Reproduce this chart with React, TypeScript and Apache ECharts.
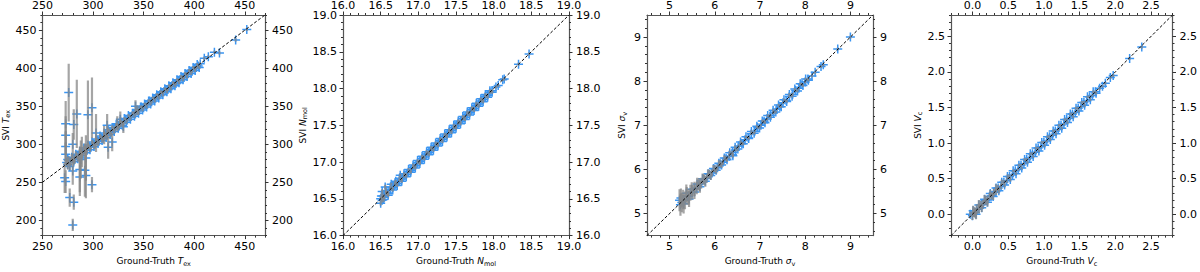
import React, { useEffect, useRef } from 'react';
import * as echarts from 'echarts';

// Each point: [ground truth, SVI estimate, SVI uncertainty]
const texPoints: number[][] = [
  [274, 276, 4], [275, 273, 6], [276, 279, 5], [278, 277, 5], [280, 281, 4], [282, 280, 5],
  [284, 285, 4], [286, 284, 4], [288, 289, 4], [290, 288, 3], [292, 293, 3], [294, 292, 4],
  [296, 297, 3], [298, 296, 3], [300, 301, 3], [302, 300, 3], [304, 305, 3], [306, 304, 3],
  [308, 309, 3], [310, 308, 3], [312, 313, 3], [314, 312, 3], [316, 317, 3], [318, 316, 3],
  [320, 320, 3], [322, 321, 3], [324, 325, 2], [326, 324, 3], [328, 329, 2], [330, 328, 3],
  [332, 333, 2], [334, 332, 2], [336, 336, 2], [338, 337, 2], [340, 341, 2], [342, 340, 2],
  [344, 344, 2], [346, 345, 2], [348, 349, 2], [350, 348, 2], [352, 352, 2], [354, 353, 2],
  [356, 357, 2], [358, 356, 2], [360, 360, 2], [362, 361, 2], [364, 364, 2], [366, 365, 2],
  [368, 368, 2], [370, 369, 2], [372, 372, 2], [374, 372, 2], [376, 376, 2], [378, 377, 2],
  [380, 380, 2], [382, 380, 2], [384, 384, 2], [386, 385, 2], [388, 388, 2], [390, 388, 2],
  [392, 392, 2], [394, 393, 2], [396, 396, 2], [398, 396, 2], [400, 400, 2], [402, 401, 2],
  [404, 403, 2], [406, 406, 2],
  [410, 413, 2], [414, 415, 2], [420, 421, 2], [425, 420, 2], [441, 437, 2], [452, 451, 2],
  [273, 327, 30], [273, 312, 25], [273, 297, 20], [273, 287, 15], [272, 256, 20], [273, 251, 15],
  [276, 368, 38], [277, 230, 12], [281, 224, 10], [280, 194, 8], [281, 326, 20], [280, 300, 15],
  [284, 340, 45], [280, 265, 18], [287, 267, 30], [288, 280, 25], [292, 266, 35], [293, 282, 30],
  [287, 257, 25], [293, 259, 30], [295, 339, 45], [299, 348, 40], [299, 247, 10], [303, 315, 25],
  [289, 290, 20], [311, 312, 12], [314, 325, 15], [315, 296, 15], [319, 303, 12], [324, 327, 10],
  [327, 333, 10], [330, 323, 8], [342, 350, 8], [344, 345, 6],
];
const texBandEdges: number[][] = [
  [275, 280, 4], [277, 271, 5], [279, 283, 4], [281, 277, 4], [283, 287, 4], [285, 281, 4],
  [287, 291, 3], [289, 285, 3], [291, 295, 3], [293, 289, 3], [295, 299, 3], [297, 293, 3],
  [299, 303, 3], [301, 297, 3], [303, 307, 3], [305, 301, 3], [307, 311, 3], [309, 305, 3],
  [311, 315, 3], [313, 309, 3], [315, 319, 3], [317, 313, 3], [319, 322, 3], [321, 317, 3],
  [323, 326, 2], [325, 321, 2], [327, 330, 2], [329, 325, 2], [331, 334, 2], [333, 329, 2],
  [335, 338, 2], [337, 333, 2], [339, 341, 2], [341, 337, 2], [343, 345, 2], [345, 341, 2],
  [347, 349, 2], [349, 345, 2], [351, 353, 2], [353, 349, 2], [355, 357, 2], [357, 353, 2],
  [359, 361, 2], [361, 357, 2], [363, 365, 2], [365, 361, 2], [367, 369, 2], [369, 365, 2],
  [371, 373, 2], [373, 369, 2], [375, 377, 2], [377, 373, 2], [379, 381, 2], [381, 377, 2],
  [383, 385, 2], [385, 381, 2], [387, 389, 2], [389, 385, 2], [391, 393, 2], [393, 389, 2],
  [395, 397, 2], [397, 393, 2], [399, 401, 2], [401, 397, 2], [403, 405, 2], [405, 401, 2],
];

const nmolPoints: number[][] = [
  [16.50, 16.50, 0.03], [16.52, 16.48, 0.03], [16.53, 16.54, 0.03], [16.55, 16.52, 0.03],
  [16.57, 16.58, 0.03], [16.60, 16.58, 0.03], [16.63, 16.63, 0.02], [16.66, 16.65, 0.02],
  [16.69, 16.69, 0.02], [16.72, 16.71, 0.02], [16.75, 16.75, 0.02], [16.78, 16.77, 0.02],
  [16.81, 16.81, 0.02], [16.84, 16.83, 0.02], [16.87, 16.87, 0.02], [16.90, 16.89, 0.02],
  [16.93, 16.93, 0.02], [16.96, 16.95, 0.02], [16.99, 16.99, 0.02], [17.02, 17.01, 0.02],
  [17.05, 17.05, 0.02], [17.08, 17.07, 0.02], [17.11, 17.11, 0.02], [17.14, 17.13, 0.02],
  [17.17, 17.17, 0.02], [17.20, 17.19, 0.02], [17.23, 17.23, 0.02], [17.26, 17.25, 0.02],
  [17.29, 17.29, 0.02], [17.32, 17.31, 0.02], [17.35, 17.35, 0.02], [17.38, 17.37, 0.02],
  [17.41, 17.41, 0.02], [17.44, 17.43, 0.02], [17.47, 17.47, 0.02], [17.50, 17.49, 0.02],
  [17.53, 17.53, 0.02], [17.56, 17.55, 0.02], [17.59, 17.59, 0.02], [17.62, 17.61, 0.02],
  [17.65, 17.65, 0.02], [17.68, 17.67, 0.02], [17.71, 17.71, 0.02], [17.74, 17.73, 0.02],
  [17.77, 17.77, 0.02], [17.80, 17.79, 0.02], [17.83, 17.83, 0.02], [17.86, 17.85, 0.02],
  [17.89, 17.89, 0.02], [17.92, 17.91, 0.02], [17.95, 17.95, 0.02], [17.98, 17.97, 0.02],
  [18.03, 18.02, 0.02], [18.06, 18.04, 0.02], [18.12, 18.12, 0.02], [18.14, 18.13, 0.02],
  [18.33, 18.33, 0.02], [18.47, 18.47, 0.02],
  [16.56, 16.66, 0.03], [16.59, 16.57, 0.03], [16.50, 16.44, 0.03], [16.52, 16.60, 0.03],
  [16.76, 16.82, 0.02], [16.64, 16.70, 0.02], [16.70, 16.74, 0.02],
];
const nmolBandEdges: number[][] = [
  [16.51, 16.54, 0.03], [16.54, 16.49, 0.03], [16.57, 16.61, 0.03], [16.60, 16.55, 0.03],
  [16.63, 16.66, 0.02], [16.66, 16.62, 0.02], [16.69, 16.72, 0.02], [16.72, 16.68, 0.02],
  [16.75, 16.78, 0.02], [16.78, 16.74, 0.02], [16.81, 16.84, 0.02], [16.84, 16.80, 0.02],
  [16.87, 16.90, 0.02], [16.90, 16.86, 0.02], [16.93, 16.96, 0.02], [16.96, 16.92, 0.02],
  [16.99, 17.02, 0.02], [17.02, 16.98, 0.02], [17.05, 17.08, 0.02], [17.08, 17.04, 0.02],
  [17.11, 17.14, 0.02], [17.14, 17.10, 0.02], [17.17, 17.20, 0.02], [17.20, 17.16, 0.02],
  [17.23, 17.26, 0.02], [17.26, 17.22, 0.02], [17.29, 17.32, 0.02], [17.32, 17.28, 0.02],
  [17.35, 17.38, 0.02], [17.38, 17.34, 0.02], [17.41, 17.44, 0.02], [17.44, 17.40, 0.02],
  [17.47, 17.50, 0.02], [17.50, 17.46, 0.02], [17.53, 17.56, 0.02], [17.56, 17.52, 0.02],
  [17.59, 17.62, 0.02], [17.62, 17.58, 0.02], [17.65, 17.68, 0.02], [17.68, 17.64, 0.02],
  [17.71, 17.74, 0.02], [17.74, 17.70, 0.02], [17.77, 17.80, 0.02], [17.80, 17.76, 0.02],
  [17.83, 17.86, 0.02], [17.86, 17.82, 0.02], [17.89, 17.92, 0.02], [17.92, 17.88, 0.02],
  [17.95, 17.97, 0.02], [17.98, 17.95, 0.02],
];

const sigmaPoints: number[][] = [
  [5.22, 5.30, 0.25], [5.24, 5.20, 0.25], [5.27, 5.25, 0.22], [5.30, 5.32, 0.22], [5.34, 5.30, 0.20],
  [5.38, 5.40, 0.20], [5.42, 5.38, 0.18], [5.46, 5.47, 0.18], [5.50, 5.48, 0.16], [5.55, 5.56, 0.16],
  [5.60, 5.58, 0.14], [5.65, 5.66, 0.14], [5.70, 5.69, 0.12], [5.76, 5.77, 0.12], [5.82, 5.80, 0.10],
  [5.88, 5.89, 0.10], [5.94, 5.92, 0.08], [6.00, 6.01, 0.08], [6.06, 6.04, 0.07], [6.12, 6.13, 0.07],
  [6.18, 6.16, 0.06], [6.25, 6.25, 0.05], [6.32, 6.30, 0.05], [6.39, 6.39, 0.04], [6.46, 6.44, 0.04],
  [6.53, 6.53, 0.04], [6.60, 6.58, 0.04], [6.67, 6.67, 0.03], [6.74, 6.72, 0.03], [6.81, 6.81, 0.03],
  [6.88, 6.86, 0.03], [6.95, 6.95, 0.03], [7.02, 7.00, 0.03], [7.09, 7.09, 0.03], [7.16, 7.14, 0.03],
  [7.23, 7.23, 0.03], [7.30, 7.28, 0.03], [7.37, 7.37, 0.03], [7.44, 7.42, 0.03], [7.51, 7.51, 0.03],
  [7.58, 7.56, 0.03], [7.65, 7.65, 0.03], [7.72, 7.70, 0.03], [7.79, 7.79, 0.03], [7.86, 7.84, 0.03],
  [7.93, 7.93, 0.03], [8.00, 7.98, 0.03], [8.06, 8.05, 0.03],
  [8.15, 8.12, 0.03], [8.22, 8.20, 0.03], [8.35, 8.33, 0.03], [8.40, 8.37, 0.03], [8.72, 8.73, 0.03],
  [9.00, 9.00, 0.03], [6.40, 6.31, 0.04],
];
const sigmaBandEdges: number[][] = [
  [5.25, 5.35, 0.22], [5.31, 5.22, 0.22], [5.37, 5.46, 0.20], [5.43, 5.33, 0.18], [5.49, 5.55, 0.16],
  [5.55, 5.49, 0.16], [5.61, 5.67, 0.14], [5.67, 5.61, 0.14], [5.73, 5.79, 0.12], [5.79, 5.73, 0.12],
  [5.85, 5.90, 0.10], [5.91, 5.86, 0.10], [5.97, 6.02, 0.08], [6.03, 5.98, 0.08], [6.09, 6.14, 0.07],
  [6.15, 6.10, 0.07], [6.21, 6.26, 0.06], [6.27, 6.22, 0.05], [6.33, 6.38, 0.05], [6.39, 6.34, 0.04],
  [6.45, 6.50, 0.04], [6.51, 6.46, 0.04], [6.57, 6.62, 0.04], [6.63, 6.58, 0.03], [6.69, 6.74, 0.03],
  [6.75, 6.70, 0.03], [6.81, 6.86, 0.03], [6.87, 6.82, 0.03], [6.93, 6.98, 0.03], [6.99, 6.94, 0.03],
  [7.05, 7.10, 0.03], [7.11, 7.06, 0.03], [7.17, 7.22, 0.03], [7.23, 7.18, 0.03], [7.29, 7.34, 0.03],
  [7.35, 7.30, 0.03], [7.41, 7.46, 0.03], [7.47, 7.42, 0.03], [7.53, 7.58, 0.03], [7.59, 7.54, 0.03],
  [7.65, 7.70, 0.03], [7.71, 7.66, 0.03], [7.77, 7.82, 0.03], [7.83, 7.78, 0.03], [7.89, 7.94, 0.03],
  [7.95, 7.90, 0.03], [8.01, 8.05, 0.03], [8.07, 8.02, 0.03],
];

const vcPoints: number[][] = [
  [-0.03, 0.00, 0.04], [0.00, -0.02, 0.06], [0.02, 0.03, 0.07], [0.04, 0.02, 0.07], [0.06, 0.07, 0.07],
  [0.09, 0.08, 0.07], [0.12, 0.13, 0.06], [0.15, 0.14, 0.06], [0.18, 0.19, 0.06], [0.21, 0.20, 0.06],
  [0.24, 0.25, 0.05], [0.27, 0.26, 0.05], [0.30, 0.31, 0.05], [0.33, 0.32, 0.05], [0.36, 0.37, 0.04],
  [0.40, 0.39, 0.04], [0.44, 0.45, 0.03], [0.48, 0.47, 0.03], [0.52, 0.53, 0.03], [0.56, 0.55, 0.02],
  [0.60, 0.61, 0.02], [0.64, 0.63, 0.02], [0.68, 0.69, 0.02], [0.72, 0.71, 0.02], [0.76, 0.77, 0.02],
  [0.80, 0.79, 0.02], [0.84, 0.85, 0.02], [0.88, 0.87, 0.02], [0.92, 0.93, 0.02], [0.96, 0.95, 0.02],
  [1.00, 1.01, 0.02], [1.04, 1.03, 0.02], [1.08, 1.09, 0.02], [1.12, 1.11, 0.02], [1.16, 1.17, 0.02],
  [1.20, 1.19, 0.02], [1.24, 1.25, 0.02], [1.28, 1.27, 0.02], [1.32, 1.33, 0.02], [1.36, 1.35, 0.02],
  [1.40, 1.41, 0.02], [1.44, 1.43, 0.02], [1.48, 1.49, 0.02], [1.52, 1.51, 0.02], [1.56, 1.57, 0.02],
  [1.60, 1.59, 0.02], [1.64, 1.65, 0.02], [1.68, 1.67, 0.02], [1.72, 1.72, 0.02],
  [1.78, 1.77, 0.02], [1.82, 1.80, 0.02], [1.86, 1.84, 0.02], [1.93, 1.92, 0.02], [1.97, 1.95, 0.02],
  [2.20, 2.19, 0.02], [2.37, 2.35, 0.02],
];
const vcBandEdges: number[][] = [
  [0.01, 0.05, 0.07], [0.05, 0.00, 0.07], [0.09, 0.13, 0.07], [0.13, 0.09, 0.06], [0.17, 0.21, 0.06],
  [0.21, 0.17, 0.06], [0.25, 0.29, 0.05], [0.29, 0.25, 0.05], [0.33, 0.37, 0.05], [0.37, 0.33, 0.04],
  [0.41, 0.45, 0.04], [0.45, 0.41, 0.03], [0.49, 0.53, 0.03], [0.53, 0.49, 0.03], [0.57, 0.61, 0.02],
  [0.61, 0.57, 0.02], [0.65, 0.69, 0.02], [0.69, 0.65, 0.02], [0.73, 0.77, 0.02], [0.77, 0.73, 0.02],
  [0.81, 0.85, 0.02], [0.85, 0.81, 0.02], [0.89, 0.93, 0.02], [0.93, 0.89, 0.02], [0.97, 1.01, 0.02],
  [1.01, 0.97, 0.02], [1.05, 1.09, 0.02], [1.09, 1.05, 0.02], [1.13, 1.17, 0.02], [1.17, 1.13, 0.02],
  [1.21, 1.25, 0.02], [1.25, 1.21, 0.02], [1.29, 1.33, 0.02], [1.33, 1.29, 0.02], [1.37, 1.41, 0.02],
  [1.41, 1.37, 0.02], [1.45, 1.49, 0.02], [1.49, 1.45, 0.02], [1.53, 1.57, 0.02], [1.57, 1.53, 0.02],
  [1.61, 1.65, 0.02], [1.65, 1.61, 0.02], [1.69, 1.72, 0.02], [1.73, 1.70, 0.02],
];

// axis ranges and tick labels
const texXRange = [250, 470];
const texYRange = [180, 470];
const texXTicks = [250, 300, 350, 400, 450];
const texYTicks = [200, 250, 300, 350, 400, 450];
const nmolRange = [16, 19];
const nmolTicks = [16.0, 16.5, 17.0, 17.5, 18.0, 18.5, 19.0];
const sigmaRange = [4.5, 9.5];
const sigmaTicks = [5, 6, 7, 8, 9];
const vcRange = [-0.3, 2.8];
const vcTicks = [0.0, 0.5, 1.0, 1.5, 2.0, 2.5];

// identity line endpoints
const texDiagonal = [250, 470];
const nmolDiagonal = [16, 19];
const sigmaDiagonal = [4.5, 9.5];
const vcDiagonal = [-0.3, 2.8];

const FONT = 'DejaVu Sans';
const BLUE = '#3a95f2';
const PLUS = 'path://M3.75,0h1.5v9h-1.5zM0,3.75h9v1.5h-9z';

function minorTicks(range: number[], step: number, majors: number[]) {
  const out: number[] = [];
  const start = Math.ceil(range[0] / step - 1e-9);
  const end = Math.floor(range[1] / step + 1e-9);
  for (let k = start; k <= end; k++) {
    const v = Math.round(k * step * 1e6) / 1e6;
    if (!majors.some((m) => Math.abs(m - v) < step / 10)) out.push(v);
  }
  return out;
}

const rich = {
  it: { fontStyle: 'italic', fontSize: 9, fontFamily: FONT, verticalAlign: 'middle', lineHeight: 12 },
  sub: { fontSize: 6.5, fontFamily: FONT, verticalAlign: 'bottom', lineHeight: 8 },
};

const panels = [
  {
    points: texPoints.concat(texBandEdges), xRange: texXRange, yRange: texYRange, xTicks: texXTicks, yTicks: texYTicks,
    minor: 10, digits: 0, diag: texDiagonal,
    xName: 'Ground-Truth {it|T}{sub|ex}', yName: 'SVI {it|T}{sub|ex}', yNameGap: 28,
  },
  {
    points: nmolPoints.concat(nmolBandEdges), xRange: nmolRange, yRange: nmolRange, xTicks: nmolTicks, yTicks: nmolTicks,
    minor: 0.1, digits: 1, diag: nmolDiagonal,
    xName: 'Ground-Truth {it|N}{sub|mol}', yName: 'SVI {it|N}{sub|mol}', yNameGap: 32,
  },
  {
    points: sigmaPoints.concat(sigmaBandEdges), xRange: sigmaRange, yRange: sigmaRange, xTicks: sigmaTicks, yTicks: sigmaTicks,
    minor: 0.2, digits: 0, diag: sigmaDiagonal,
    xName: 'Ground-Truth {it|σ}{sub|v}', yName: 'SVI {it|σ}{sub|v}', yNameGap: 19,
  },
  {
    points: vcPoints.concat(vcBandEdges), xRange: vcRange, yRange: vcRange, xTicks: vcTicks, yTicks: vcTicks,
    minor: 0.1, digits: 1, diag: vcDiagonal,
    xName: 'Ground-Truth {it|V}{sub|c}', yName: 'SVI {it|V}{sub|c}', yNameGap: 27,
  },
];

const GRID_LEFTS = [39, 343, 647, 951];

function makeAxis(
  gridIndex: number, position: string, range: number[], ticks: number[], major: boolean,
  digits: number, margin: number, extra: any = {}
) {
  return {
    type: 'value', gridIndex, position, min: range[0], max: range[1],
    axisLine: { show: major, onZero: false, lineStyle: { color: '#555', width: 1.2 } },
    axisTick: {
      show: true, inside: false, length: major ? 3.5 : 2, customValues: ticks,
      lineStyle: { color: '#333', width: 1 },
    },
    axisLabel: {
      show: major, customValues: ticks, margin, fontSize: 11, fontFamily: FONT, color: '#000',
      formatter: (v: number) => v.toFixed(digits),
    },
    splitLine: { show: false },
    ...extra,
  };
}

export default function App() {
  const ref = useRef<HTMLDivElement>(null);
  useEffect(() => {
    if (!ref.current) return;
    const chart = echarts.init(ref.current, null, { renderer: 'svg' });
    const grid: any[] = [];
    const xAxis: any[] = [];
    const yAxis: any[] = [];
    const series: any[] = [];
    panels.forEach((p, i) => {
      grid.push({ left: GRID_LEFTS[i], top: 15, width: 226, height: 228 });
      const xMinor = minorTicks(p.xRange, p.minor, p.xTicks);
      const yMinor = minorTicks(p.yRange, p.minor, p.yTicks);
      const nameStyle = { fontSize: 9, fontFamily: FONT, color: '#000', rich };
      xAxis.push(
        makeAxis(i, 'bottom', p.xRange, p.xTicks, true, p.digits, 5, {
          name: p.xName, nameLocation: 'middle', nameGap: 17, nameTextStyle: nameStyle,
        }),
        makeAxis(i, 'bottom', p.xRange, xMinor, false, p.digits, 5),
        makeAxis(i, 'top', p.xRange, p.xTicks, true, p.digits, 4),
        makeAxis(i, 'top', p.xRange, xMinor, false, p.digits, 4),
      );
      yAxis.push(
        makeAxis(i, 'left', p.yRange, p.yTicks, true, p.digits, 6, {
          name: p.yName, nameLocation: 'middle', nameGap: p.yNameGap, nameRotate: 90, nameTextStyle: nameStyle,
        }),
        makeAxis(i, 'left', p.yRange, yMinor, false, p.digits, 6),
        makeAxis(i, 'right', p.yRange, p.yTicks, true, p.digits, 7),
        makeAxis(i, 'right', p.yRange, yMinor, false, p.digits, 7),
      );
      const ax = i * 4;
      series.push({
        type: 'scatter', xAxisIndex: ax, yAxisIndex: ax, z: 2,
        symbol: PLUS, symbolSize: 9, itemStyle: { color: BLUE, opacity: 1 },
        data: p.points.map((d) => [d[0], d[1]]),
      });
      series.push({
        type: 'custom', xAxisIndex: ax, yAxisIndex: ax, z: 3, clip: true,
        encode: { x: 0, y: 1 },
        data: p.points,
        renderItem: (_params: any, api: any) => {
          const x = api.value(0), y = api.value(1), e = api.value(2);
          const a = api.coord([x, y - e]);
          const b = api.coord([x, y + e]);
          return {
            type: 'line',
            shape: { x1: a[0], y1: a[1], x2: b[0], y2: b[1] },
            style: { stroke: 'rgba(135,135,135,0.75)', lineWidth: 2.2 },
          };
        },
      });
      series.push({
        type: 'line', xAxisIndex: ax, yAxisIndex: ax, z: 4, symbol: 'none', silent: true,
        lineStyle: { color: '#000', width: 1, type: [3, 2] },
        data: [[p.diag[0], p.diag[0]], [p.diag[1], p.diag[1]]],
      });
    });
    chart.setOption({ animation: false, grid, xAxis, yAxis, series });
    return () => chart.dispose();
  }, []);
  return (
    <div
      ref={ref}
      style={{ position: 'absolute', left: 0, top: 0, width: 1200, height: 272, background: '#fff' }}
    />
  );
}
